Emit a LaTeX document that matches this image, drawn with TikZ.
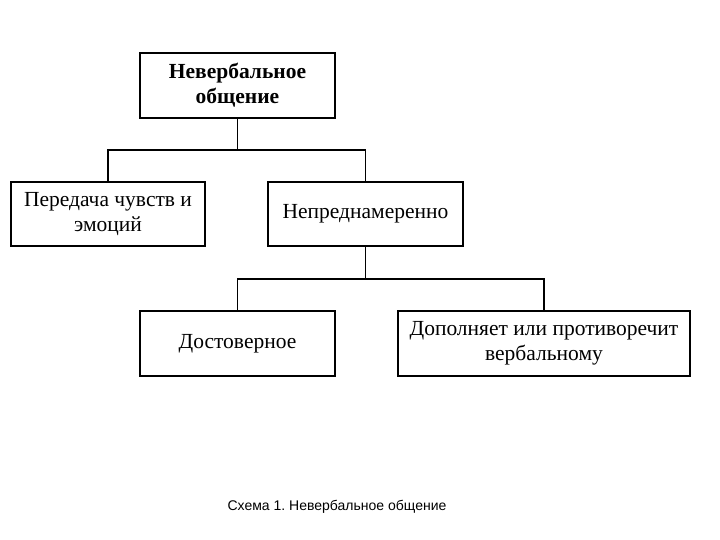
\documentclass[tikz,border=0pt]{standalone}
\usepackage{fontspec}
\setmainfont{Liberation Serif}
\newfontfamily\capfont{Liberation Sans}
\frenchspacing
\begin{document}
\begin{tikzpicture}[x=1bp,y=-1bp,
  box/.style={draw=black,line width=1.2bp,rectangle,inner sep=0pt,align=center,
    font=\fontsize{21.5bp}{25bp}\selectfont},
  conn/.style={draw=black,line width=1.6bp}]
\useasboundingbox (0,0) rectangle (720,540);
\node[box,minimum width=195bp,minimum height=65bp,font=\fontsize{21.5bp}{25bp}\selectfont\bfseries] (top) at (237.5,85.5) {Невербальное\\общение};
\node[box,minimum width=194bp,minimum height=64bp] (left) at (108,214) {Передача чувств и\\эмоций};
\node[box,minimum width=195bp,minimum height=64bp] (mid) at (365.5,214) {Непреднамеренно};
\node[box,minimum width=195bp,minimum height=65bp] (dost) at (237.5,343.5) {Достоверное};
\node[box,line width=2bp,minimum width=292bp,minimum height=65bp] (dop) at (544,343.5) {Дополняет или противоречит\\вербальному};
\coordinate (j1) at (237.5,150);
\coordinate (j2) at (365.5,279);
\draw[conn] (top.south) -- (j1);
\draw[conn] (left.north) |- (j1) -| (mid.north);
\draw[conn] (mid.south) -- (j2);
\draw[conn] (dost.north) |- (j2) -| (dop.north);
\node[font=\capfont\fontsize{14bp}{16bp}\selectfont,inner sep=0pt] (cap) at (337,507) {Схема 1. Невербальное общение};
\end{tikzpicture}
\end{document}
